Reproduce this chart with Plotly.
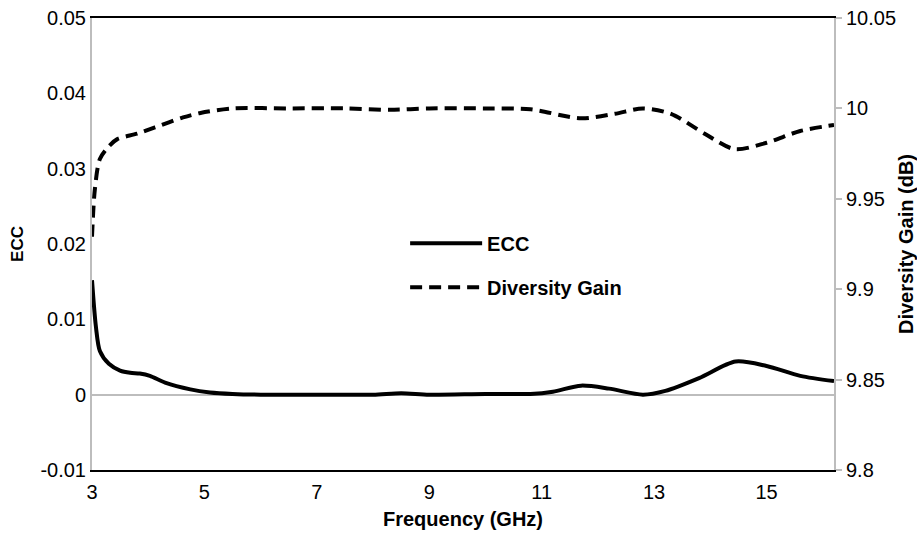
import plotly.graph_objects as go

# Frequency sweep (GHz)
freq_ecc = [3.0, 3.07, 3.14, 3.3, 3.5, 3.68, 3.85, 4.03, 4.3, 4.75, 5.1, 5.5, 6.0, 7.0,
            8.0, 8.5, 9.0, 10.0, 10.8, 11.2, 11.7, 12.2, 12.8, 13.2, 13.8, 14.45, 15.0,
            15.6, 16.2]
ecc = [0.0152, 0.009, 0.0058, 0.0041, 0.0032, 0.0029, 0.0028, 0.0025, 0.0016, 0.0007,
       0.0003, 0.0001, 0.0, 0.0, 0.0, 0.0002, 0.0, 0.0001, 0.0001, 0.0004, 0.0012,
       0.0008, 0.0, 0.0005, 0.0022, 0.0044, 0.0038, 0.0025, 0.0018]

freq_dg = [3.0, 3.05, 3.14, 3.3, 3.45, 3.8, 4.12, 4.62, 4.93, 5.5, 6.5, 7.5, 8.3,
           9.0, 10.0, 10.8, 11.7, 12.3, 12.8, 13.3, 13.9, 14.43, 15.0, 15.6, 16.2]
dg = [9.929, 9.955, 9.972, 9.979, 9.983, 9.986, 9.9895, 9.995, 9.9975, 10.0, 10.0,
      10.0, 9.9992, 10.0, 10.0, 9.9995, 9.9945, 9.997, 10.0, 9.997, 9.986, 9.9775,
      9.981, 9.9875, 9.9908]

x_ticks = [3, 5, 7, 9, 11, 13, 15]
y_ticks = [-0.01, 0, 0.01, 0.02, 0.03, 0.04, 0.05]
y2_ticks = [9.8, 9.85, 9.9, 9.95, 10, 10.05]

FONT = "Liberation Sans, Arial, sans-serif"
GREY = "#bdbdbd"
TICK_SIZE = 20

fig = go.Figure()
fig.add_trace(go.Scatter(
    x=freq_ecc, y=ecc, name="ECC", mode="lines", legendgroup="a",
    line=dict(color="black", width=4, shape="spline", smoothing=0.8),
))
fig.add_trace(go.Scatter(
    x=freq_dg, y=dg, name="Diversity Gain", mode="lines", yaxis="y2", legendgroup="b",
    line=dict(color="black", width=4, dash="12px,7px", shape="spline", smoothing=0.8),
))

fig.update_layout(
    width=917, height=533,
    margin=dict(l=92, r=83, t=18, b=63, autoexpand=False),
    paper_bgcolor="white", plot_bgcolor="white",
    font=dict(family=FONT, size=TICK_SIZE, color="black"),
    showlegend=True,
    legend=dict(
        x=0.422, y=0.545, xanchor="left", yanchor="top",
        bgcolor="rgba(0,0,0,0)", itemwidth=72,
        traceorder="grouped", tracegroupgap=15,
        font=dict(family=FONT, size=20, weight="bold"),
    ),
    xaxis=dict(
        range=[3, 16.2], tickvals=x_ticks, ticktext=[str(t) for t in x_ticks],
        showgrid=False, zeroline=False, ticks="", automargin=False,
        showline=True, linecolor="black", linewidth=2, mirror=True,
        ticklabelstandoff=3,
        title=dict(text="<b>Frequency (GHz)</b>", standoff=10,
                   font=dict(family=FONT, size=20)),
        tickfont=dict(family=FONT, size=TICK_SIZE),
    ),
    yaxis=dict(
        range=[-0.01, 0.05], tickvals=y_ticks,
        ticktext=["-0.01", "0", "0.01", "0.02", "0.03", "0.04", "0.05"],
        showgrid=False, zeroline=True, zerolinecolor=GREY, zerolinewidth=2,
        showline=True, linecolor=GREY, linewidth=2, ticks="", automargin=False,
        title=dict(text="<b>ECC</b>", standoff=12, font=dict(family=FONT, size=17)),
        tickfont=dict(family=FONT, size=TICK_SIZE),
    ),
    yaxis2=dict(
        range=[9.8, 10.05], tickvals=y2_ticks,
        ticktext=["9.8", "9.85", "9.9", "9.95", "10", "10.05"],
        overlaying="y", side="right", showgrid=False, zeroline=False,
        showline=True, linecolor=GREY, linewidth=2, automargin=False,
        ticks="outside", ticklen=6, tickcolor=GREY, tickwidth=2,
        title=dict(text="<b>Diversity Gain (dB)</b>", standoff=6,
                   font=dict(family=FONT, size=20)),
        tickfont=dict(family=FONT, size=TICK_SIZE),
    ),
)

fig.write_html("out.html")
